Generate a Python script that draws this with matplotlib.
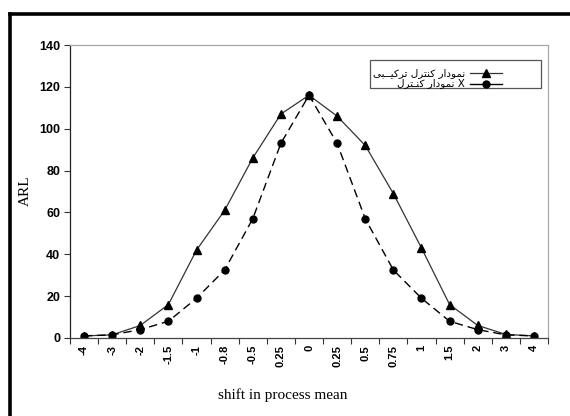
import matplotlib
matplotlib.use("Agg")
import matplotlib.pyplot as plt
from matplotlib.lines import Line2D
from matplotlib.patches import Rectangle
from matplotlib.transforms import Affine2D
import numpy as np

categories = ["-4", "-3", "-2", "-1.5", "-1", "-0.8", "-0.5", "0.25", "0",
              "0.25", "0.5", "0.75", "1", "1.5", "2", "3", "4"]
combined_arl = [1, 1.5, 6, 16, 42, 61, 86, 107, 116, 106, 92, 69, 43, 16, 6, 1.7, 1]
xbar_arl = [1, 1.5, 4, 8, 19, 32.5, 57, 93, 116, 93, 57, 32.5, 19, 8, 4, 1.5, 1]
yticks = [0, 20, 40, 60, 80, 100, 120, 140]

# Persian legend text, shaped with presentation forms (visual left-to-right order)
w_nemudar = "\uFEAD\uFE8D\uFEA9\uFEEE\uFEE4\uFEE7"
w_kontrol = "\uFEDD\uFEAE\uFE98\uFEE8\uFB90"
w_kontrol2 = "\uFEDD\uFEAE\uFE98\u0640\uFEE8\uFB90"
w_tarkibi = "\uFBFD\uFE92\u0640\u0640\uFBFF\uFB90\uFEAE\uFE97"
label_combined = w_tarkibi + " " + w_kontrol + " " + w_nemudar
label_xbar = w_kontrol2 + " " + w_nemudar + " X"

W, H = 570, 416
fig = plt.figure(figsize=(W / 100, H / 100), dpi=100)
fig.patch.set_facecolor("white")
# pixel transform (origin top-left)
px = Affine2D().scale(1 / W, -1 / H).translate(0, 1) + fig.transFigure

# outer frame (partially cut off)
fig.add_artist(Line2D([9.5, 9.5], [13.5, H + 5], transform=px,
                      color="black", lw=2.6, solid_capstyle="projecting"))
fig.add_artist(Line2D([9.5, W + 5], [13.5, 13.5], transform=px,
                      color="black", lw=2.6, solid_capstyle="projecting"))

ax = fig.add_axes([70 / W, 1 - 338 / H, (548 - 70) / W, (338 - 45) / H])
x = np.arange(len(categories))

style_c = dict(color="#333333", lw=0.9, marker="^", markersize=6,
               markerfacecolor="black", markeredgecolor="black")
style_x = dict(color="black", lw=1.0, ls=(0, (6, 3.5)), marker="o", markersize=5,
               markerfacecolor="black", markeredgecolor="black")
ax.plot(x, combined_arl, **style_c)
ax.plot(x, xbar_arl, **style_x)

ax.set_xlim(-0.5, len(categories) - 0.5)
ax.set_ylim(0, 140)
ax.set_yticks(yticks)
ax.set_yticklabels([str(v) for v in yticks], fontfamily="Liberation Sans",
                   fontweight="bold", fontsize=9)

ax.set_xticks(np.arange(-0.5, len(categories)), labels=[""] * (len(categories) + 1))
ax.set_xticks(x, labels=categories, minor=True)
ax.tick_params(axis="x", which="major", direction="out", length=4, width=0.8, color="#333333")
ax.tick_params(axis="x", which="minor", length=0, pad=5)
ax.tick_params(axis="y", direction="out", length=4, width=0.8, color="#333333", pad=3)
for lab in ax.get_xticklabels(minor=True):
    lab.set_rotation(90)
    lab.set_fontfamily("Liberation Sans")
    lab.set_fontweight("bold")
    lab.set_fontsize(8)

ax.spines["left"].set_color("#222222")
ax.spines["bottom"].set_color("#444444")
ax.spines["top"].set_color("#a8a8a8")
ax.spines["right"].set_color("#a8a8a8")
for s in ax.spines.values():
    s.set_linewidth(0.9)

fig.text(25 / W, 1 - 191 / H, "ARL", rotation=90, ha="center", va="center",
         fontfamily="Liberation Serif", fontsize=11)
fig.text(283 / W, 1 - 395 / H, "shift in process mean", ha="center", va="center",
         fontfamily="Liberation Serif", fontsize=11)

# legend (drawn by hand to copy the right-to-left layout)
fig.add_artist(Rectangle((370, 60), 171, 27.5, transform=px, facecolor="white",
                         edgecolor="#555555", lw=0.9))
for yy, lab, st in [(73, label_combined, style_c), (83.5, label_xbar, style_x)]:
    fig.text(465 / W, 1 - yy / H, lab, ha="right", va="center",
             family=["DejaVu Sans"], fontsize=7.5)
    fig.add_artist(Line2D([470, 486, 502], [yy, yy, yy], transform=px,
                          markevery=[1], **{k: v for k, v in st.items() if k != "ls"},
                          ls="-"))

fig.savefig("out.png", dpi=100, facecolor="white")
